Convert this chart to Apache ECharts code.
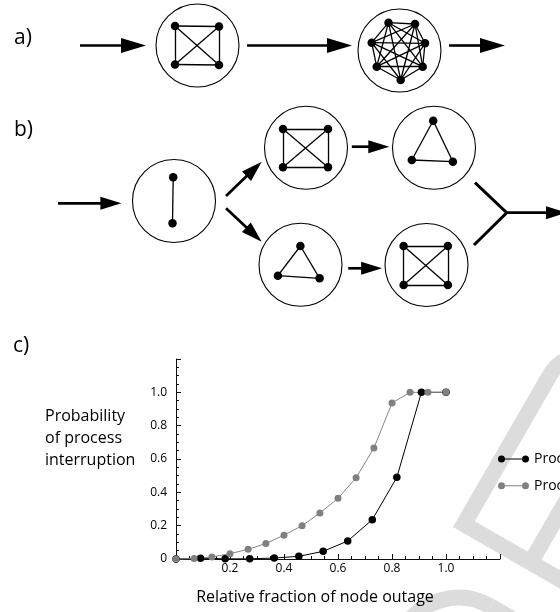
<!DOCTYPE html>
<html><head><meta charset="utf-8">
<script src="https://cdn.jsdelivr.net/npm/echarts@6/dist/echarts.min.js"></script>
<style>html,body{margin:0;padding:0;background:#fff}#c{width:560px;height:612px}</style>
</head><body><div id="c"></div>
<script>
// ---------- panel c) values ----------
const seriesNames = ['Process a', 'Process b'];
const blackX = [0, 0.091, 0.182, 0.273, 0.364, 0.455, 0.545, 0.636, 0.727, 0.818, 0.909, 1.0];
const blackY = [0, 0.005, 0.001, 0.001, 0.006, 0.016, 0.046, 0.108, 0.236, 0.49, 1.0, 1.0];
const grayX = [0, 0.067, 0.133, 0.2, 0.267, 0.333, 0.4, 0.467, 0.533, 0.6, 0.667, 0.733, 0.8, 0.867, 0.933, 1.0];
const grayY = [0, 0.003, 0.012, 0.032, 0.058, 0.093, 0.143, 0.2, 0.276, 0.364, 0.488, 0.666, 0.936, 1.0, 1.0, 1.0];
const xTickLabels = ['', '0.2', '0.4', '0.6', '0.8', '1.0', ''];
const yTickLabels = ['0', '0.2', '0.4', '0.6', '0.8', '1.0', ''];
const xAxisTitle = 'Relative fraction of node outage';
const yAxisTitle = 'Probability\nof process\ninterruption';
const panelLabels = ['a)', 'b)', 'c)'];

// ---------- panels a) and b): diagram geometry (canvas units) ----------
const circleCenters = [[197.5, 45.5], [399.5, 50.5], [174, 201], [306, 147.8], [434, 147.8], [300.5, 264.7], [426.5, 265]];
const nodesA1 = [[175, 26], [219, 26.5], [175, 64.5], [219, 65]];
const nodesA2 = [[388.5, 22.7], [415, 24], [425, 43.3], [422.7, 66.7], [400.7, 80], [376.7, 66.7], [371.7, 42.7]];
const nodesB0 = [[173.2, 177.3], [172.5, 223.3]];
const nodesB1 = [[283, 129], [328, 129], [283, 167.3], [328, 167.3]];
const nodesB2 = [[433.2, 120.7], [411.8, 160], [452.9, 161.7]];
const nodesC1 = [[300.4, 246], [277.9, 275.7], [319.6, 278.3]];
const nodesC2 = [[403.6, 246], [447.9, 246], [403.6, 285], [447.9, 285]];
const arrowsA = [[80, 45.5, 146, 45.5], [247, 45.5, 352, 45.5], [449, 45.5, 505, 45.5]];
const arrowsB = [[58, 203.3, 121.4, 203.3], [226, 196, 261.7, 161.7], [226, 208.3, 261.7, 241.7],
                 [351.8, 146.7, 389.3, 146.7], [348.2, 268.3, 382.1, 268.3], [506.7, 212.7, 567, 212.7]];
const mergePath = [[475, 182.7], [506.7, 212.7], [474, 245]];

function completeEdges(n) {
  const e = [];
  for (let i = 0; i < n; i++) for (let j = i + 1; j < n; j++) e.push([i, j]);
  return e;
}
const graphs = [nodesA1, nodesA2, nodesB0, nodesB1, nodesB2, nodesC1, nodesC2];
const edgeData = [];
graphs.forEach(g => completeEdges(g.length).forEach(([i, j]) => edgeData.push({ coords: [g[i], g[j]] })));
const nodeData = [].concat(...graphs);

const FONT = "'Open Sans', 'DejaVu Sans', sans-serif";
const WM = '#dcdcdc';
const wmStyle = { fill: null, stroke: WM, lineWidth: 16, lineJoin: 'miter', lineCap: 'butt' };

function arrowRenderer(headLen, headHalf, shaftW) {
  return function (params, api) {
    const p1 = api.coord([api.value(0), api.value(1)]);
    const p2 = api.coord([api.value(2), api.value(3)]);
    const dx = p2[0] - p1[0], dy = p2[1] - p1[1];
    const L = Math.hypot(dx, dy), ux = dx / L, uy = dy / L;
    const bx = p2[0] - ux * headLen, by = p2[1] - uy * headLen;
    return {
      type: 'group',
      children: [
        { type: 'line', shape: { x1: p1[0], y1: p1[1], x2: bx + ux, y2: by + uy },
          style: { stroke: '#000', lineWidth: shaftW } },
        { type: 'polygon', shape: { points: [[p2[0], p2[1]], [bx - uy * headHalf, by + ux * headHalf], [bx + uy * headHalf, by - ux * headHalf]] },
          style: { fill: '#000' } }
      ]
    };
  };
}

const chart = echarts.init(document.getElementById('c'), null, { renderer: 'canvas' });
const tickColor = '#111';
chart.setOption({
  backgroundColor: '#fff',
  animation: false,
  grid: [
    { left: 0, top: 0, width: 560, height: 612 },
    { left: 176, top: 359, width: 324, height: 200 }
  ],
  xAxis: [
    { gridIndex: 0, type: 'value', min: 0, max: 560, show: false },
    { gridIndex: 1, type: 'value', min: 0, max: 1.2, interval: 0.2,
      axisLine: { show: true, onZero: false, lineStyle: { color: tickColor, width: 1 } },
      axisTick: { show: true, inside: true, length: 5, lineStyle: { color: tickColor } },
      minorTick: { show: true, splitNumber: 4, length: 3, lineStyle: { color: tickColor } },
      splitLine: { show: false }, minorSplitLine: { show: false },
      axisLabel: { margin: 4, fontSize: 12, color: '#000', fontFamily: FONT, showMaxLabel: false,
        formatter: v => xTickLabels[Math.round(v / 0.2)] || '' } }
  ],
  yAxis: [
    { gridIndex: 0, type: 'value', min: 0, max: 612, inverse: true, show: false },
    { gridIndex: 1, type: 'value', min: 0, max: 1.2, interval: 0.2,
      axisLine: { show: true, onZero: false, lineStyle: { color: tickColor, width: 1 } },
      axisTick: { show: true, inside: true, length: 5, lineStyle: { color: tickColor } },
      minorTick: { show: true, splitNumber: 4, length: 3, lineStyle: { color: tickColor } },
      splitLine: { show: false }, minorSplitLine: { show: false },
      axisLabel: { margin: 9, fontSize: 12, color: '#000', fontFamily: FONT,
        formatter: v => yTickLabels[Math.round(v / 0.2)] || '' } }
  ],
  legend: {
    data: seriesNames, orient: 'vertical', left: 493, top: 447,
    itemWidth: 31, itemHeight: 7, itemGap: 12.7, selectedMode: false,
    icon: 'path://M0,4A3.5,3.5,0,1,1,7,4A3.5,3.5,0,1,1,0,4ZM3.5,3.5L27.5,3.5L27.5,4.5L3.5,4.5ZM24,4A3.5,3.5,0,1,1,31,4A3.5,3.5,0,1,1,24,4Z',
    textStyle: { fontSize: 14, color: '#000', fontFamily: FONT, lineHeight: 14 }
  },
  graphic: [
    // light proof watermark letters (decoration only)
    { type: 'group', x: 453, y: 527, rotation: Math.PI / 3, z: -5, silent: true,
      children: [
        { type: 'polyline', shape: { points: [[8, 320], [8, 8], [180, 8]] }, style: wmStyle, silent: true },
        { type: 'arc', shape: { cx: 180, cy: 46.5, r: 38.5, startAngle: -Math.PI / 2, endAngle: Math.PI / 2, clockwise: true }, style: wmStyle, silent: true },
        { type: 'polyline', shape: { points: [[180, 85], [8, 85]] }, style: wmStyle, silent: true },
        { type: 'polyline', shape: { points: [[-400, 8], [-114, 8]] }, style: wmStyle, silent: true },
        { type: 'arc', shape: { cx: -114, cy: 72, r: 64, startAngle: -Math.PI / 2, endAngle: 0, clockwise: true }, style: wmStyle, silent: true },
        { type: 'polyline', shape: { points: [[-50, 72], [-50, 320]] }, style: wmStyle, silent: true }
      ] },
    { type: 'text', x: 14, y: 38, style: { text: panelLabels[0], fontSize: 21, fontFamily: FONT, fill: '#000', align: 'left', verticalAlign: 'middle' } },
    { type: 'text', x: 14, y: 130, style: { text: panelLabels[1], fontSize: 21, fontFamily: FONT, fill: '#000', align: 'left', verticalAlign: 'middle' } },
    { type: 'text', x: 13, y: 346, style: { text: panelLabels[2], fontSize: 21, fontFamily: FONT, fill: '#000', align: 'left', verticalAlign: 'middle' } },
    { type: 'text', x: 45, y: 405, style: { text: yAxisTitle, fontSize: 16, lineHeight: 22, fontFamily: FONT, fill: '#000', align: 'left', verticalAlign: 'top' } },
    { type: 'text', x: 315, y: 597, style: { text: xAxisTitle, fontSize: 16, fontFamily: FONT, fill: '#000', align: 'center', verticalAlign: 'middle' } }
  ],
  series: [
    { type: 'scatter', xAxisIndex: 0, yAxisIndex: 0, silent: true, z: 1,
      symbol: 'circle', symbolSize: 83, data: circleCenters,
      itemStyle: { color: '#fff', borderColor: '#000', borderWidth: 1.1, opacity: 1 } },
    { type: 'lines', coordinateSystem: 'cartesian2d', xAxisIndex: 0, yAxisIndex: 0, silent: true, z: 2,
      data: edgeData, lineStyle: { color: '#000', width: 1.3, opacity: 1 } },
    { type: 'scatter', xAxisIndex: 0, yAxisIndex: 0, silent: true, z: 3,
      symbol: 'circle', symbolSize: 8.5, data: nodeData, itemStyle: { color: '#000', opacity: 1 } },
    { type: 'custom', xAxisIndex: 0, yAxisIndex: 0, silent: true, z: 3, clip: false,
      encode: { x: [0, 2], y: [1, 3] }, data: arrowsA, renderItem: arrowRenderer(25, 7.5, 2.6) },
    { type: 'custom', xAxisIndex: 0, yAxisIndex: 0, silent: true, z: 3, clip: false,
      encode: { x: [0, 2], y: [1, 3] }, data: arrowsB, renderItem: arrowRenderer(21, 6.5, 2.7) },
    { type: 'lines', coordinateSystem: 'cartesian2d', xAxisIndex: 0, yAxisIndex: 0, silent: true, z: 3,
      polyline: true, data: [{ coords: mergePath }], lineStyle: { color: '#000', width: 3, opacity: 1, join: 'miter' } },
    { name: seriesNames[0], type: 'line', xAxisIndex: 1, yAxisIndex: 1, clip: false,
      data: blackX.map((x, i) => [x, blackY[i]]), symbol: 'circle', symbolSize: 7.5, showAllSymbol: true,
      itemStyle: { color: '#000' }, lineStyle: { color: '#000', width: 1 } },
    { name: seriesNames[1], type: 'line', xAxisIndex: 1, yAxisIndex: 1, clip: false,
      data: grayX.map((x, i) => [x, grayY[i]]), symbol: 'circle', symbolSize: 7, showAllSymbol: true,
      itemStyle: { color: '#808080' }, lineStyle: { color: '#858585', width: 1 } }
  ]
});
</script></body></html>
